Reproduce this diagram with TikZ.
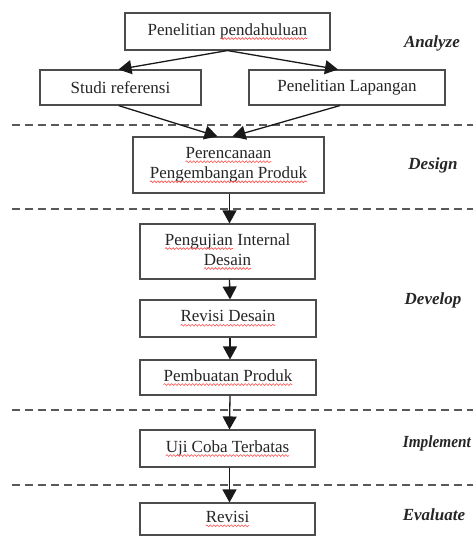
\documentclass[tikz,border=0pt]{standalone}
\usepackage{fontspec}
\setmainfont{Liberation Serif}
\usetikzlibrary{arrows.meta,decorations.pathmorphing}
\newcommand{\salah}[1]{\tikz[baseline=(w.base)]{\node[inner sep=0pt,outer sep=0pt,draw=none,fill=none,minimum size=0pt] (w) {#1};
	\draw[red!70,line width=.6pt,decorate,decoration={snake,amplitude=.9pt,segment length=3.5pt}]
		([yshift=-3.5pt]w.base west)--([yshift=-3.5pt]w.base east);}}
\tikzset{
	kotak/.style={draw=black!70,line width=1.1pt,fill=white,inner sep=2pt,align=center,
		text=black!85,font=\fontsize{17}{20}\selectfont},
	fase/.style={text=black!85,font=\fontsize{17}{20}\selectfont\bfseries\itshape},
	panah/.style={-{Triangle[width=14pt,length=13pt]},line width=1.3pt,black!90},
	batas/.style={line width=1.6pt,black!65,dash pattern=on 8pt off 5pt}
}
\begin{document}
\begin{tikzpicture}[x=1pt,y=-1pt]
		\useasboundingbox (0,0) rectangle (473,537);
		\foreach \yb in {125,209,410,485}
			\draw[batas] (12,\yb)--(473,\yb);
		\node[kotak,minimum width=205pt,minimum height=37pt] (pendahuluan) at (227.5,31.5)
			{Penelitian \salah{pendahuluan}};
		\node[kotak,minimum width=161pt,minimum height=35pt] (referensi) at (120.5,87.5)
			{Studi referensi};
		\node[kotak,minimum width=196pt,minimum height=35pt] (lapangan) at (347,87.5)
			{Penelitian Lapangan};
		\node[kotak,minimum width=191pt,minimum height=56pt] (perencanaan) at (228.5,165)
			{\salah{Perencanaan}\\\salah{Pengembangan Produk}};
		\node[kotak,minimum width=175pt,minimum height=55pt] (pengujian) at (227.5,251.5)
			{\salah{Pengujian} Internal\\\salah{Desain}};
		\node[kotak,minimum width=176pt,minimum height=37pt] (revisidesain) at (228,318.5)
			{\salah{Revisi Desain}};
		\node[kotak,minimum width=176pt,minimum height=35pt] (pembuatan) at (228,377.5)
			{\salah{Pembuatan Produk}};
		\node[kotak,minimum width=175pt,minimum height=37pt] (ujicoba) at (227.5,448.5)
			{\salah{Uji Coba Terbatas}};
		\node[kotak,minimum width=175pt,minimum height=32pt] (revisi) at (227.5,519)
			{\salah{Revisi}};
		\node[fase] (analyze) at (432,43) {Analyze};
		\node[fase] (design) at (433,165) {Design};
		\node[fase] (develop) at (433,300) {Develop};
		\node[fase,anchor=east,inner sep=0pt] (implement) at (471,443) {\scalebox{.9}[1]{Implement}};
		\node[fase] (evaluate) at (434,515) {Evaluate};
		\draw[panah] (pendahuluan.south)--([xshift=-2pt]referensi.north);
		\draw[panah] (pendahuluan.south)--([xshift=-9pt]lapangan.north);
		\draw[panah] ([xshift=-2pt]referensi.south)--([xshift=-11pt]perencanaan.north);
		\draw[panah] ([xshift=-7pt]lapangan.south)--([xshift=4pt]perencanaan.north);
		\draw[panah] ([xshift=1pt]perencanaan.south)--([xshift=2pt]pengujian.north);
		\draw[panah] ([xshift=2pt]pengujian.south)--([xshift=2pt]revisidesain.north);
		\draw[panah] ([xshift=2pt]revisidesain.south)--([xshift=2pt]pembuatan.north);
		\draw[panah] ([xshift=2pt]pembuatan.south)--([xshift=2pt]ujicoba.north);
		\draw[panah] ([xshift=2pt]ujicoba.south)--([xshift=2pt]revisi.north);
	\end{tikzpicture}
\end{document}
